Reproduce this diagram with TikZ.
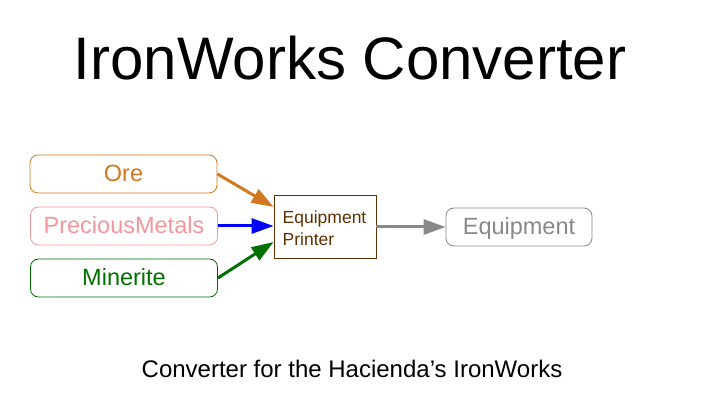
\documentclass[tikz,border=0pt]{standalone}
\usepackage{fontspec}
\setmainfont{Liberation Sans}
\usetikzlibrary{arrows.meta}
\definecolor{oreC}{RGB}{210,120,30}
\definecolor{pinkC}{RGB}{244,150,155}
\definecolor{greenC}{RGB}{0,112,0}
\definecolor{brownC}{RGB}{96,48,0}
\definecolor{grayC}{RGB}{136,136,136}
\tikzset{
  inbox/.style={draw, rounded corners=8pt, minimum width=187pt, minimum height=38pt, inner sep=0pt, text height=17.5pt, text depth=2.3pt, font=\fontsize{23.5}{26}\selectfont, line width=0.8pt},
  conv/.style={draw=brownC, minimum width=102pt, minimum height=63pt, inner sep=0pt, line width=0.8pt},
  convtext/.style={text=brownC, inner sep=0pt, font=\fontsize{17.5}{21.7}\selectfont, align=left},
  flow/.style={line width=3pt, -{Triangle[length=22pt,width=15pt]}}
}
\begin{document}
\begin{tikzpicture}[x=1pt,y=-1pt]
\useasboundingbox (0,0) rectangle (705,401);
\node (title) at (350,58) {\fontsize{60}{66}\selectfont IronWorks Converter};
\node[inbox, draw=oreC, text=oreC] (ore) at (123.5,174) {Ore};
\node[inbox, draw=pinkC, text=pinkC] (pm) at (124,226) {PreciousMetals};
\node[inbox, draw=greenC, text=greenC] (min) at (124,278) {Minerite};
\node[conv] (printer) at (325,226.5) {};
\node[convtext, anchor=west] (ptext) at (282.5,228.5) {Equipment\\Printer};
\node[inbox, draw=grayC, text=grayC, minimum width=146pt] (eq) at (519,227) {Equipment};
\node (cap) at (352,369) {\fontsize{24}{27}\selectfont Converter for the Hacienda’s IronWorks};
\draw[flow, oreC] (ore.east) -- (printer.west |- 0,207);
\draw[flow, blue] (pm.east) -- (printer.west |- pm.east);
\draw[flow, greenC] (min.east) -- (printer.west |- 0,242);
\draw[flow, grayC] (printer.east |- eq.west) -- (eq.west);
\end{tikzpicture}
\end{document}
